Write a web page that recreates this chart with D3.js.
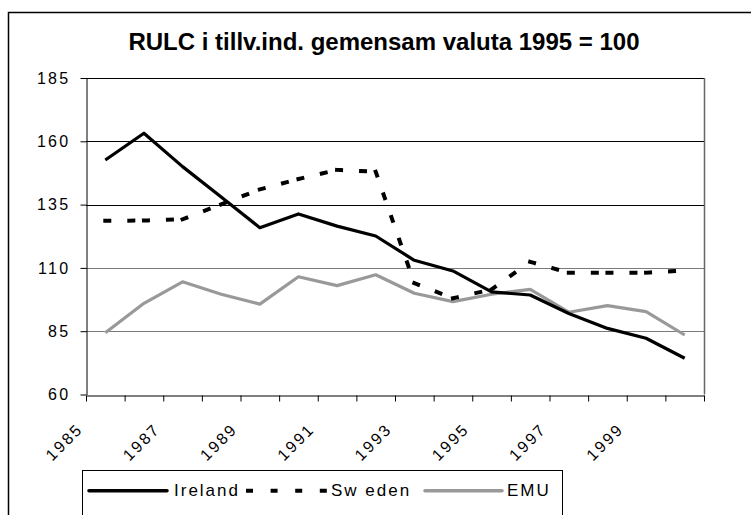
<!DOCTYPE html>
<html>
<head>
<meta charset="utf-8">
<script src="https://cdn.jsdelivr.net/npm/d3@7/dist/d3.min.js"></script>
<style>
  html, body { margin: 0; padding: 0; background: #fff; }
  svg { display: block; }
  text { font-family: "Liberation Sans", Arial, sans-serif; }
</style>
</head>
<body>
<svg id="chart" width="751" height="515"></svg>
<script>
const title = "RULC i tillv.ind. gemensam valuta 1995 = 100";
const categories = ["1985","1986","1987","1988","1989","1990","1991","1992","1993","1994","1995","1996","1997","1998","1999","2000"];
const tickLabels = ["1985","1987","1989","1991","1993","1995","1997","1999"];
const yTicks = [60, 85, 110, 135, 160, 185];
const ireland = [152.6, 163.2, 150.0, 138.0, 125.9, 131.3, 126.5, 122.6, 113.0, 108.8, 100.5, 99.3, 92.0, 86.1, 82.2, 74.3];
const sweden  = [128.6, 128.7, 129.2, 135.1, 141.0, 145.1, 148.7, 148.0, 104.0, 98.0, 101.5, 112.4, 108.1, 108.1, 108.1, 109.0];
const emu     = [84.4, 96.0, 104.5, 99.6, 95.7, 106.5, 103.0, 107.3, 100.0, 96.7, 99.6, 101.5, 92.5, 95.1, 92.7, 83.5];
const seriesNames = ["Ireland", "Sw eden", "EMU"];

(function () {
const svg = d3.select("#chart");

// outer frame
svg.append("rect")
  .attr("x", 8.5).attr("y", 12.5).attr("width", 800).attr("height", 600)
  .attr("fill", "none").attr("stroke", "#000").attr("stroke-width", 1.5);

// title
svg.append("text")
  .attr("x", 384).attr("y", 50)
  .attr("text-anchor", "middle")
  .attr("font-size", 24).attr("font-weight", "bold")
  .text(title);

const pL = 86, pR = 704, pT = 78, pB = 394.5;
const x = d3.scaleLinear().domain([0, categories.length]).range([pL, pR]);
const y = d3.scaleLinear().domain([60, 185]).range([pB, pT]);
const px = i => x(i + 0.5);

// gridlines
svg.append("g").selectAll("line")
  .data(yTicks.filter(v => v > 60))
  .join("line")
  .attr("x1", pL).attr("x2", pR)
  .attr("y1", d => Math.round(y(d)) + 0.5).attr("y2", d => Math.round(y(d)) + 0.5)
  .attr("stroke", d => d >= 135 ? "#000" : "#7a7a7a")
  .attr("stroke-width", 1);

// right border of plot
svg.append("line")
  .attr("x1", pR + 0.5).attr("x2", pR + 0.5)
  .attr("y1", pT).attr("y2", pB)
  .attr("stroke", "#666").attr("stroke-width", 1.5);

// y axis
const yAxis = svg.append("g")
  .attr("transform", `translate(${pL + 0.5},0)`)
  .call(d3.axisLeft(y).tickValues(yTicks).tickSize(6).tickSizeOuter(0).tickFormat(d3.format("d")));
yAxis.select(".domain").attr("stroke", "#000");
yAxis.selectAll(".tick line").attr("stroke", "#000");
yAxis.selectAll(".tick text")
  .attr("font-family", "Liberation Sans, Arial, sans-serif")
  .attr("font-size", 16).attr("letter-spacing", 2.3)
  .attr("x", -16).attr("fill", "#000");

// x axis
const xAxis = svg.append("g")
  .attr("transform", `translate(0,${Math.round(pB) + 0.5})`)
  .call(d3.axisBottom(x).tickValues(d3.range(categories.length + 1)).tickSize(6).tickSizeOuter(0).tickFormat(""));
xAxis.select(".domain").attr("stroke", "#000");
xAxis.selectAll(".tick line").attr("stroke", "#000");

// x labels (every other category, anchored at left tick of the category)
svg.append("g").selectAll("text")
  .data(tickLabels)
  .join("text")
  .attr("transform", d => `translate(${x(categories.indexOf(d)) - 2},${430}) rotate(-45)`)
  .attr("text-anchor", "end")
  .attr("font-size", 16).attr("letter-spacing", 2.3)
  .text(d => d);

// lines
const line = d3.line().x((d, i) => px(i)).y(d => y(d));
svg.append("path").datum(emu)
  .attr("d", line).attr("fill", "none")
  .attr("stroke", "#999").attr("stroke-width", 3.2).attr("stroke-linejoin", "round");
svg.append("path").datum(ireland)
  .attr("d", line).attr("fill", "none")
  .attr("stroke", "#000").attr("stroke-width", 3.2).attr("stroke-linejoin", "round");

// Sweden: dashed, pattern restarts each segment
const segs = d3.pairs(sweden.map((v, i) => [px(i), y(v)]));
svg.append("g").selectAll("path")
  .data(segs)
  .join("path")
  .attr("d", d => d3.line()(d))
  .attr("fill", "none").attr("stroke", "#000")
  .attr("stroke-width", 4).attr("stroke-linecap", "square")
  .attr("stroke-dasharray", "4,20");

// legend
const lg = svg.append("g");
lg.append("rect").attr("x", 82.5).attr("y", 470.5).attr("width", 480).attr("height", 80)
  .attr("fill", "#fff").attr("stroke", "#000").attr("stroke-width", 1);
const ly = 490.7;
lg.append("line").attr("x1", 89).attr("x2", 167).attr("y1", ly).attr("y2", ly)
  .attr("stroke", "#000").attr("stroke-width", 3.5).attr("stroke-linecap", "round");
lg.append("line").attr("x1", 246).attr("x2", 328).attr("y1", ly).attr("y2", ly)
  .attr("stroke", "#000").attr("stroke-width", 4).attr("stroke-dasharray", "7,17.6");
lg.append("line").attr("x1", 425).attr("x2", 502).attr("y1", ly).attr("y2", ly)
  .attr("stroke", "#999").attr("stroke-width", 3.5).attr("stroke-linecap", "round");
const lx = [174, 331, 507];
lg.selectAll("text.lab").data(seriesNames).join("text")
  .attr("class", "lab")
  .attr("x", (d, i) => lx[i]).attr("y", 495.5)
  .attr("font-size", 17).attr("letter-spacing", 2)
  .text(d => d);
})();
</script>
</body>
</html>
